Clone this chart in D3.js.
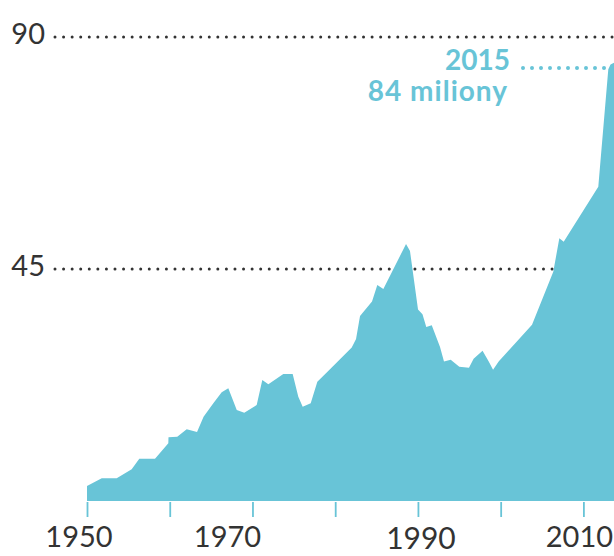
<!DOCTYPE html>
<html>
<head>
<meta charset="utf-8">
<script src="https://cdn.jsdelivr.net/npm/d3@7"></script>
<style>
  html, body { margin: 0; padding: 0; background: #fff; }
  svg { display: block; }
</style>
</head>
<body>
<svg id="chart" width="614" height="556"></svg>
<script>
// ---- data ----
const years = [1950, 1951.78, 1953.59, 1955.40, 1956.32, 1958.22, 1959.83, 1959.85, 1960.91, 1962.05,
  1963.30, 1964.09, 1965.27, 1966.28, 1967.08, 1968.10, 1969.01, 1970.51, 1971.19, 1971.92,
  1973.73, 1974.86, 1975.54, 1976.07, 1977.04, 1977.84, 1979.37, 1982.00, 1982.52, 1983.00,
  1984.45, 1985.09, 1985.82, 1988.56, 1989.04, 1990.01, 1990.55, 1991.01, 1991.67, 1992.67,
  1993.15, 1993.96, 1995.00, 1996.17, 1996.73, 1997.81, 1998.54, 1999.08, 1999.78, 2003.79,
  2006.36, 2007.09, 2007.62, 2011.80, 2013.01, 2013.28, 2013.70, 2015];
const values = [2.9, 4.4, 4.4, 6.15, 8.2, 8.2, 11.2, 12.35, 12.47, 13.91,
  13.38, 16.35, 18.95, 21.08, 21.86, 17.65, 17.13, 18.62, 23.47, 22.63,
  24.63, 24.63, 20.23, 18.29, 18.95, 23.14, 25.54, 29.77, 31.42, 35.88,
  38.69, 41.89, 41.12, 49.84, 48.49, 37.14, 36.23, 33.75, 34.10, 29.87,
  27.06, 27.39, 26.05, 25.85, 27.58, 29.15, 27.09, 25.48, 27.09, 34.21,
  44.47, 50.95, 50.29, 60.96, 83.73, 84.66, 85.01, 84];
const gridValues = [45, 90];
const gridLabels = ["45", "90"];
const tickYears = [1950, 1960, 1970, 1980, 1990, 2000, 2010];
const labelYears = [1950, 1970, 1990, 2010];
const annotationYear = "2015";
const annotationValue = 84;
const annotationText = "84 miliony";

// ---- layout / style ----
const TEAL = "#68c4d7";
const DARK = "#333333";
const FONT = "Lato, 'Open Sans', sans-serif";
const labelDx = {1950: -8, 1970: -25, 1990: 3, 2010: -4};

const svg = d3.select("#chart");
const x = d3.scaleLinear().domain([1950, 2010]).range([87, 583.4]);
const y = d3.scaleLinear().domain([0, 90]).range([501, 37]);

const data = years.map((yr, i) => ({year: yr, value: values[i]}));

// grid lines (behind area)
const grid = svg.append("g");
grid.selectAll("line").data(gridValues).join("line")
  .attr("x1", 55).attr("x2", 614)
  .attr("y1", d => y(d)).attr("y2", d => y(d))
  .attr("stroke", DARK).attr("stroke-width", 3)
  .attr("stroke-linecap", "round")
  .attr("stroke-dasharray", "0 8.57");
grid.selectAll("text").data(gridValues).join("text")
  .attr("x", 45).attr("y", d => y(d) + 7)
  .attr("text-anchor", "end")
  .attr("font-family", FONT)
  .attr("font-size", 29).attr("fill", DARK)
  .text((d, i) => gridLabels[i]);

// area
const area = d3.area()
  .x(d => x(d.year))
  .y0(y(0))
  .y1(d => y(d.value));
svg.append("path").datum(data)
  .attr("d", area)
  .attr("fill", TEAL);

// x axis ticks
const axis = d3.axisBottom(x).tickValues(tickYears).tickSize(15).tickFormat("");
const ax = svg.append("g").attr("transform", `translate(0,${y(0) + 1})`).call(axis);
ax.select(".domain").attr("stroke", "#ffffff").attr("stroke-opacity", 0.6);
ax.selectAll(".tick line").attr("stroke", TEAL).attr("stroke-width", 1.8);

// x labels
svg.append("g").selectAll("text").data(labelYears).join("text")
  .attr("x", d => x(d) + labelDx[d])
  .attr("y", d => d === 1990 ? 549 : 547)
  .attr("text-anchor", "middle")
  .attr("font-family", FONT)
  .attr("font-size", d => d === 1990 ? 30 : 29)
  .attr("fill", DARK)
  .text(d => d);

// annotation
const ay = y(annotationValue);
svg.append("line")
  .attr("x1", 523).attr("x2", 606)
  .attr("y1", ay).attr("y2", ay)
  .attr("stroke", TEAL).attr("stroke-width", 4)
  .attr("stroke-linecap", "round")
  .attr("stroke-dasharray", "0 9");
svg.append("text")
  .attr("x", 510).attr("y", ay + 2)
  .attr("text-anchor", "end")
  .attr("font-family", FONT)
  .attr("font-weight", "bold")
  .attr("font-size", 28).attr("fill", TEAL)
  .text(annotationYear);
svg.append("text")
  .attr("x", 508).attr("y", ay + 33)
  .attr("text-anchor", "end")
  .attr("font-family", FONT)
  .attr("font-weight", "bold")
  .attr("font-size", 28).attr("letter-spacing", 1)
  .attr("fill", TEAL)
  .text(annotationText);
</script>
</body>
</html>
